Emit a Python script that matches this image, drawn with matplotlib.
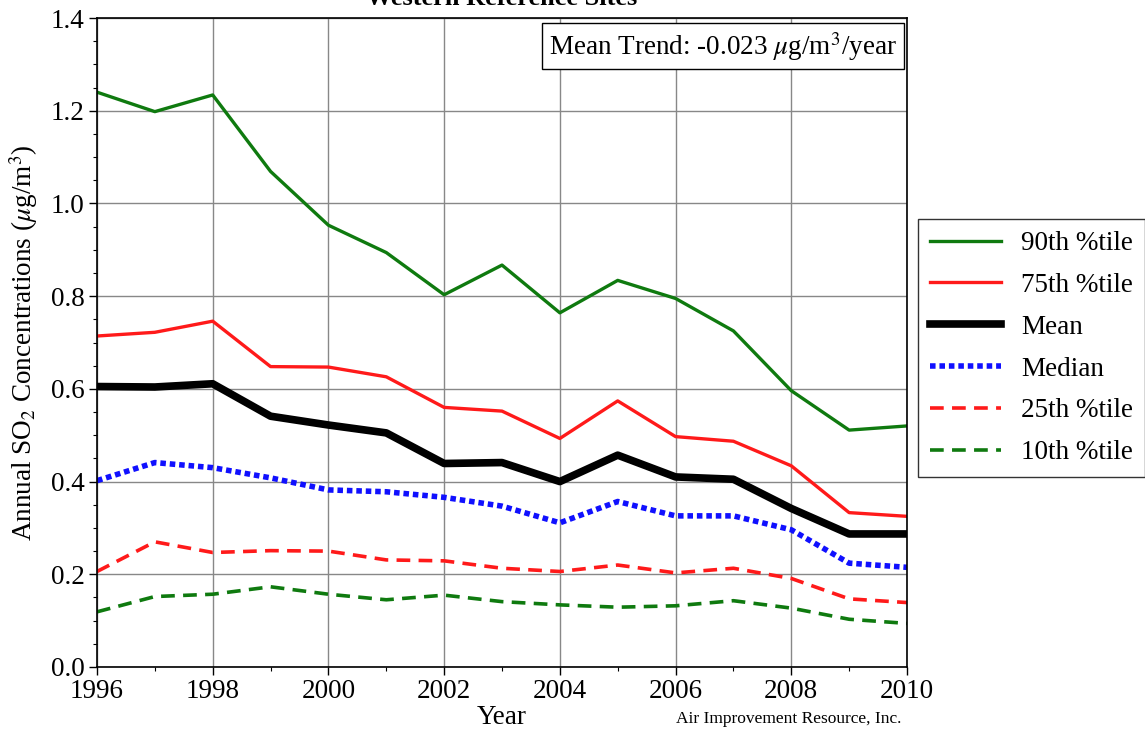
import matplotlib
matplotlib.use("Agg")
import matplotlib.pyplot as plt
from matplotlib.ticker import MultipleLocator

plt.rcParams['font.family'] = ['Liberation Serif', 'DejaVu Serif']
plt.rcParams['mathtext.fontset'] = 'stix'

years = list(range(1996, 2011))
p90 = [1.240, 1.198, 1.234, 1.069, 0.953, 0.894, 0.803, 0.867, 0.764, 0.834, 0.795, 0.725, 0.596, 0.511, 0.520]
p75 = [0.714, 0.722, 0.746, 0.648, 0.647, 0.626, 0.560, 0.552, 0.493, 0.574, 0.497, 0.487, 0.434, 0.333, 0.325]
mean = [0.605, 0.604, 0.611, 0.541, 0.522, 0.505, 0.439, 0.441, 0.400, 0.457, 0.410, 0.405, 0.342, 0.287, 0.287]
median = [0.402, 0.441, 0.430, 0.408, 0.382, 0.378, 0.366, 0.347, 0.311, 0.357, 0.326, 0.326, 0.296, 0.224, 0.215]
p25 = [0.206, 0.270, 0.247, 0.251, 0.250, 0.231, 0.229, 0.213, 0.206, 0.220, 0.203, 0.213, 0.191, 0.147, 0.139]
p10 = [0.119, 0.152, 0.157, 0.173, 0.157, 0.145, 0.155, 0.141, 0.134, 0.129, 0.132, 0.143, 0.127, 0.103, 0.094]

green = '#0f7a0f'
red = '#ff1a1a'
blue = '#1010ff'

fig = plt.figure(figsize=(11.45, 7.33), dpi=100)
ax = fig.add_axes([97/1145, 66/733, 810/1145, 649/733])

ax.plot(years, p90, color=green, lw=2.4, label='90th %tile')
ax.plot(years, p75, color=red, lw=2.4, label='75th %tile')
ax.plot(years, mean, color='black', lw=5.5, label='Mean')
ax.plot(years, median, color=blue, lw=4.0, dashes=(1.0, 0.7), label='Median')
ax.plot(years, p25, color=red, lw=2.6, dashes=(3.8, 2.3), label='25th %tile')
ax.plot(years, p10, color=green, lw=2.6, dashes=(3.8, 2.3), label='10th %tile')

ax.set_xlim(1996, 2010)
ax.set_ylim(0, 1.4)
ax.xaxis.set_major_locator(MultipleLocator(2))
ax.xaxis.set_minor_locator(MultipleLocator(1))
ax.yaxis.set_major_locator(MultipleLocator(0.2))
ax.yaxis.set_minor_locator(MultipleLocator(0.05))
ax.yaxis.set_major_formatter(matplotlib.ticker.FormatStrFormatter('%.1f'))
ax.grid(True, which='major', color='#888888', lw=1.0)
ax.set_axisbelow(True)
ax.tick_params(which='major', length=6, width=1, labelsize=19.5, direction='out', pad=3)
ax.tick_params(which='minor', length=3, width=0.8, direction='out')
for s in ax.spines.values():
    s.set_linewidth(1.2)

ax.set_xlabel('Year', fontsize=19.5, labelpad=0)
ax.set_ylabel(r'Annual SO$_2$ Concentrations ($\mu$g/m$^3$)', fontsize=19.5, labelpad=8)

ax.text(0.9875, 0.982, r'Mean Trend: -0.023 $\mu$g/m$^3$/year', transform=ax.transAxes,
        ha='right', va='top', fontsize=19.5,
        bbox=dict(boxstyle='square,pad=0.25', fc='white', ec='black', lw=1.0))

fig.text(502/1145, 1 - 5/733, 'Western Reference Sites', ha='center', va='baseline',
         fontsize=19, fontweight='bold')
fig.text(789/1145, 1 - 723/733, 'Air Improvement Resource, Inc.', ha='center', va='baseline',
         fontsize=12.5)

leg = fig.legend(loc='upper left', bbox_to_anchor=(918/1145, 1 - 219/733), fontsize=19.5,
                 frameon=True, fancybox=False, edgecolor='black', handlelength=2.6,
                 handletextpad=0.75, labelspacing=0.62, borderpad=0.45, borderaxespad=0)
leg.get_frame().set_linewidth(1.0)

fig.savefig('out.png', dpi=100)
